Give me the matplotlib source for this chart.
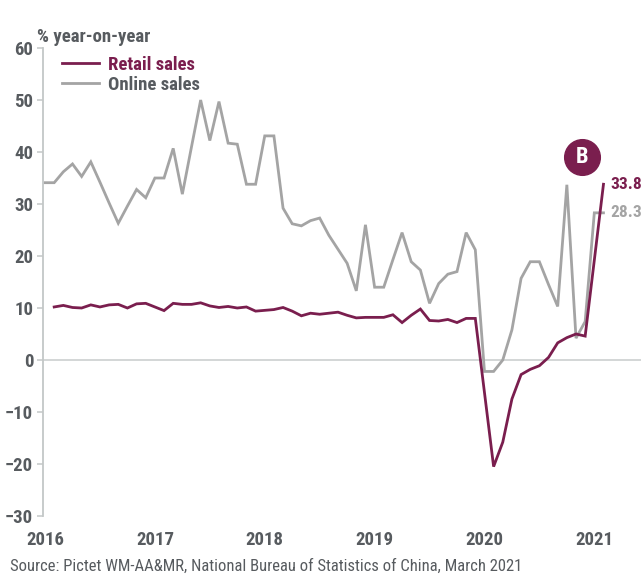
import numpy as np
import matplotlib
matplotlib.use('Agg')
import matplotlib.pyplot as plt
from matplotlib import font_manager

# narrow face for all labels, if one is installed
installed = {f.name for f in font_manager.fontManager.ttflist}
narrow = [f for f in ['Liberation Sans Narrow', 'Roboto Condensed', 'Open Sans Condensed',
                      'DejaVu Sans Condensed'] if f in installed]
if narrow:
    plt.rcParams['font.family'] = [narrow[0], 'DejaVu Sans']
    SCALE = 1.0
else:
    plt.rcParams['font.family'] = ['DejaVu Sans']
    plt.rcParams['font.stretch'] = 'condensed'
    path = font_manager.findfont(font_manager.FontProperties(family='DejaVu Sans',
                                                             stretch='condensed',
                                                             weight='bold'))
    SCALE = 1.0 if 'ondensed' in path else 0.8

FS = 13.5 * SCALE

RETAIL_COLOR = '#7a1e4e'
ONLINE_COLOR = '#a4a4a4'
TEXT_COLOR = '#575b5f'
AXIS_COLOR = '#c3c7c7'

# retail sales, % y/y; NBS reports Jan and Feb together, so no January points
retail_months = [(y, m) for y in range(2016, 2021) for m in range(2, 13)] + [(2021, 2)]
retail_sales = [
    10.2, 10.5, 10.1, 10.0, 10.6, 10.2, 10.6, 10.7, 10.0, 10.8, 10.9,
    9.5, 10.9, 10.7, 10.7, 11.0, 10.4, 10.1, 10.3, 10.0, 10.2, 9.4,
    9.7, 10.1, 9.4, 8.5, 9.0, 8.8, 9.0, 9.2, 8.6, 8.1, 8.2,
    8.2, 8.7, 7.2, 8.6, 9.8, 7.6, 7.5, 7.8, 7.2, 8.0, 8.0,
    -20.5, -15.8, -7.5, -2.8, -1.8, -1.1, 0.5, 3.3, 4.3, 5.0, 4.6,
    33.8,
]

# online sales, % y/y, Jan 2016 - Feb 2021 (Jan repeats the Jan-Feb figure)
online_months = [(y, m) for y in range(2016, 2021) for m in range(1, 13)] + [(2021, 1), (2021, 2)]
online_sales = [
    34.1, 34.1, 36.2, 37.7, 35.3, 38.1, 34.2, 30.2, 26.3, 29.6, 32.8, 31.2,
    35.0, 35.0, 40.7, 31.9, 41.0, 50.0, 42.2, 49.7, 41.7, 41.5, 33.8, 33.8,
    43.1, 43.1, 29.2, 26.2, 25.8, 26.8, 27.3, 24.0, 21.3, 18.6, 13.3, 26.0,
    14.0, 14.0, 19.3, 24.5, 18.9, 17.3, 10.9, 14.7, 16.5, 17.0, 24.5, 21.2,
    -2.2, -2.2, 0.0, 5.8, 15.7, 18.9, 18.9, 14.5, 10.3, 33.7, 4.2, 7.4,
    28.3, 28.3,
]

years = [2016, 2017, 2018, 2019, 2020, 2021]
y_ticks = [-30, -20, -10, 0, 10, 20, 30, 40, 50, 60]


def month_index(months):
    # months since Jan 2016
    return np.array([(y - 2016) * 12 + (m - 1) for y, m in months])


x_retail = month_index(retail_months)
x_online = month_index(online_months)

fig = plt.figure(figsize=(6.43, 5.75), dpi=100)
ax = fig.add_axes([0.0669, 0.1026, 0.930, 0.8139])

ax.axhline(0, color='#d0d3d3', lw=1.3, zorder=1)
online_line, = ax.plot(x_online, online_sales, color=ONLINE_COLOR, lw=2.0,
                       solid_joinstyle='miter', zorder=2, label='Online sales')
retail_line, = ax.plot(x_retail, retail_sales, color=RETAIL_COLOR, lw=2.0,
                       solid_joinstyle='miter', zorder=3, label='Retail sales')

ax.set_xlim(-0.22, 65.1)
ax.set_ylim(-30, 60)

for side in ['top', 'right', 'bottom']:
    ax.spines[side].set_visible(False)
ax.spines['left'].set_color(AXIS_COLOR)
ax.spines['left'].set_linewidth(1.3)

ax.set_yticks(y_ticks)
ax.tick_params(axis='y', length=4, width=1.1, color=AXIS_COLOR, pad=3,
               labelsize=FS, labelcolor=TEXT_COLOR)
for lbl in ax.get_yticklabels():
    lbl.set_fontweight('bold')

ax.set_xticks(month_index([(y, 1) for y in years]))
ax.set_xticklabels([str(y) for y in years], fontweight='bold')
ax.tick_params(axis='x', length=0, pad=10.5, labelsize=FS, labelcolor=TEXT_COLOR)

# end-of-series value labels
ax.annotate(f'{retail_sales[-1]:.1f}', (x_retail[-1], retail_sales[-1]),
            xytext=(5, 0), textcoords='offset points', va='center', ha='left',
            fontsize=12.5 * SCALE, fontweight='bold', color=RETAIL_COLOR,
            annotation_clip=False)
ax.annotate(f'{online_sales[-1]:.1f}', (x_online[-1], online_sales[-1]),
            xytext=(5, 0), textcoords='offset points', va='center', ha='left',
            fontsize=12.5 * SCALE, fontweight='bold', color=ONLINE_COLOR,
            annotation_clip=False)

# "B" badge
ax.scatter([58.7], [39.0], s=660, color=RETAIL_COLOR, zorder=4, clip_on=False)
ax.text(58.7, 39.0, 'B', color='white', fontsize=16 * SCALE, fontweight='bold',
        ha='center', va='center', zorder=5)

leg = ax.legend(handles=[retail_line, online_line], loc='upper left',
                bbox_to_anchor=(62 / 643, 1 - 56 / 575), bbox_transform=fig.transFigure,
                frameon=False, borderpad=0, borderaxespad=0, handlelength=1.95 / SCALE,
                handletextpad=0.5, labelspacing=0.1,
                prop={'size': FS, 'weight': 'bold'})
for text, line in zip(leg.get_texts(), [retail_line, online_line]):
    text.set_color(RETAIL_COLOR if line is retail_line else TEXT_COLOR)

fig.text(37 / 643, 1 - 37 / 575, '% year-on-year', ha='left', va='center',
         fontsize=FS, fontweight='bold', color=TEXT_COLOR)
fig.text(10 / 643, 1 - 566 / 575,
         'Source: Pictet WM-AA&MR, National Bureau of Statistics of China, March 2021',
         ha='left', va='center', fontsize=12 * SCALE, color=TEXT_COLOR)

fig.savefig('out.png', dpi=100, facecolor='white')
